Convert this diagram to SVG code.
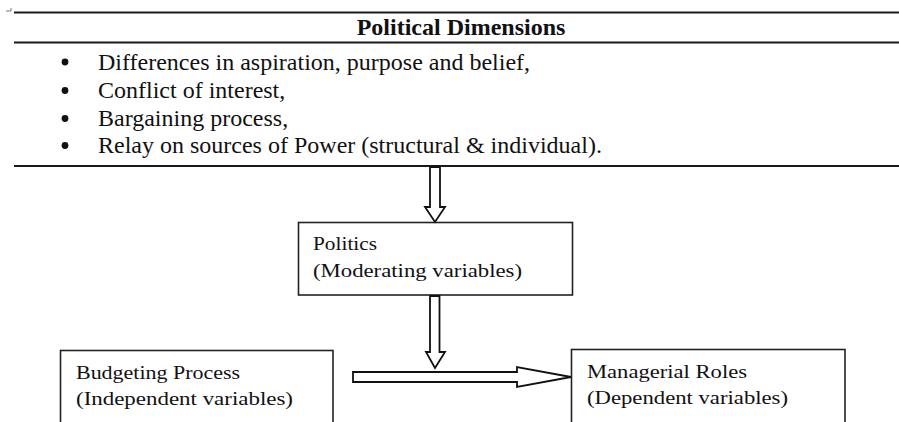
<svg xmlns="http://www.w3.org/2000/svg" width="899" height="422" viewBox="0 0 899 422">
<style>
.rule{stroke:#1a1a1a;stroke-width:2;fill:none}
.box{fill:#fff;stroke:#222;stroke-width:1.6}
.arr{fill:#fff;stroke:#111;stroke-width:1.8;stroke-linejoin:miter}
text{font-family:"Liberation Serif","Times New Roman",serif;fill:#111}
.b{font-size:24px}
.bx{font-size:19.5px}
.h{font-size:24px;font-weight:bold}
</style>
<rect width="899" height="422" fill="#fff"/>
<polyline points="6,11 11,11 11,8" fill="none" stroke="#777" stroke-width="1"/>
<g id="header">
<line class="rule" x1="14" y1="12.5" x2="899" y2="12.5"/>
<line class="rule" x1="14" y1="42.5" x2="899" y2="42.5"/>
<text class="h" x="461" y="35" text-anchor="middle">Political Dimensions</text>
<g fill="#111">
<circle cx="65" cy="62" r="3.4"/>
<circle cx="65" cy="90.5" r="3.4"/>
<circle cx="65" cy="118.5" r="3.4"/>
<circle cx="65" cy="145.5" r="3.4"/>
</g>
<text class="b" x="98" y="69.5">Differences in aspiration, purpose and belief,</text>
<text class="b" x="98" y="98">Conflict of interest,</text>
<text class="b" x="98" y="126">Bargaining process,</text>
<text class="b" x="98" y="153">Relay on sources of Power (structural &amp; individual).</text>
<line class="rule" x1="14" y1="166" x2="899" y2="166"/>
</g>
<g id="politics">
<rect class="box" x="298.5" y="222.5" width="274" height="72.5"/>
<text class="bx" x="313" y="250" textLength="64" lengthAdjust="spacingAndGlyphs">Politics</text>
<text class="bx" x="313" y="277" textLength="209" lengthAdjust="spacingAndGlyphs">(Moderating variables)</text>
</g>
<g id="budgeting">
<rect class="box" x="60.5" y="350.5" width="272.5" height="80"/>
<text class="bx" x="76" y="379" textLength="164" lengthAdjust="spacingAndGlyphs">Budgeting Process</text>
<text class="bx" x="76" y="405" textLength="217" lengthAdjust="spacingAndGlyphs">(Independent variables)</text>
</g>
<g id="managerial">
<rect class="box" x="571.5" y="349.5" width="273.5" height="80"/>
<text class="bx" x="587" y="378" textLength="160" lengthAdjust="spacingAndGlyphs">Managerial Roles</text>
<text class="bx" x="587" y="404" textLength="201" lengthAdjust="spacingAndGlyphs">(Dependent variables)</text>
</g>
<g id="connectors">
<polygon class="arr" points="430,167 440,167 440,207 445,207 435,222 425,207 430,207"/>
<polygon class="arr" points="430,296 439.5,296 439.5,352 445,352 435,368 426,352 430,352"/>
<polygon class="arr" points="353,372 517,372 517,367 571,377 517,387 517,382 353,382"/>
</g>
</svg>
